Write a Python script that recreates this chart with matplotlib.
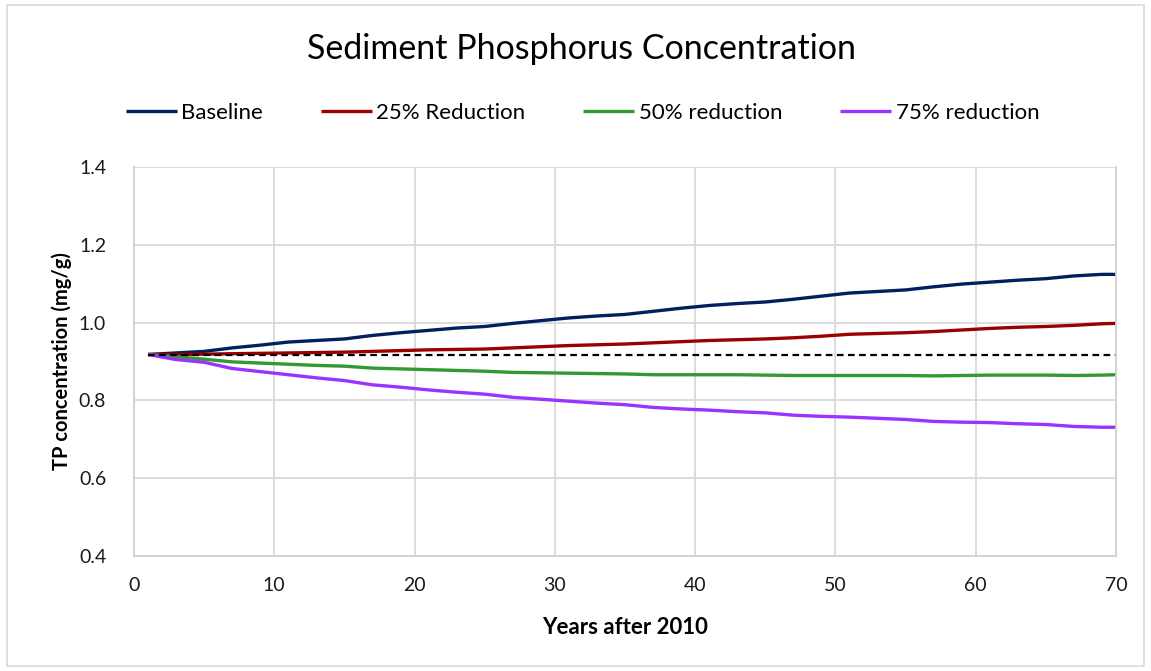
import matplotlib
matplotlib.use("Agg")
import matplotlib.pyplot as plt
from matplotlib.patches import Rectangle

years = [1, 3, 5, 7, 9, 11, 13, 15, 17, 19, 21, 23, 25, 27, 29, 31, 33, 35,
         37, 39, 41, 43, 45, 47, 49, 51, 53, 55, 57, 59, 61, 63, 65, 67, 69, 70]

baseline = [0.918, 0.922, 0.926, 0.935, 0.942, 0.950, 0.954, 0.958, 0.967, 0.974,
            0.980, 0.986, 0.990, 0.998, 1.005, 1.012, 1.017, 1.021, 1.029, 1.037,
            1.044, 1.049, 1.053, 1.060, 1.068, 1.076, 1.080, 1.084, 1.092, 1.099,
            1.104, 1.109, 1.113, 1.120, 1.124, 1.124]
red25 = [0.918, 0.918, 0.919, 0.920, 0.921, 0.922, 0.923, 0.924, 0.926, 0.928,
         0.930, 0.931, 0.932, 0.935, 0.938, 0.941, 0.943, 0.945, 0.948, 0.951,
         0.954, 0.956, 0.958, 0.961, 0.965, 0.970, 0.972, 0.974, 0.977, 0.981,
         0.985, 0.988, 0.990, 0.993, 0.997, 0.998]
red50 = [0.918, 0.912, 0.906, 0.899, 0.896, 0.893, 0.890, 0.888, 0.883, 0.881,
         0.879, 0.877, 0.875, 0.872, 0.871, 0.870, 0.869, 0.868, 0.866, 0.866,
         0.866, 0.866, 0.865, 0.864, 0.864, 0.864, 0.864, 0.864, 0.863, 0.864,
         0.865, 0.865, 0.865, 0.864, 0.865, 0.866]
red75 = [0.918, 0.905, 0.898, 0.882, 0.874, 0.866, 0.858, 0.851, 0.840, 0.834,
         0.827, 0.821, 0.816, 0.808, 0.803, 0.798, 0.793, 0.789, 0.782, 0.778,
         0.775, 0.771, 0.768, 0.762, 0.759, 0.757, 0.754, 0.751, 0.746, 0.744,
         0.743, 0.740, 0.738, 0.733, 0.731, 0.731]
initial = 0.917

series = [("Baseline", baseline, "#002060"),
          ("25% Reduction", red25, "#9B0000"),
          ("50% reduction", red50, "#339933"),
          ("75% reduction", red75, "#9933FF")]

plt.rcParams['font.family'] = ['Lato', 'DejaVu Sans']

fig = plt.figure(figsize=(11.51, 6.71), dpi=100)
ax = fig.add_axes([0.1164, 0.1714, 0.8532, 0.5797])

for name, vals, col in series:
    ax.plot(years, vals, color=col, lw=2.4, label=name, solid_capstyle='butt')
ax.axhline(initial, xmin=1/70, xmax=1, color="black", lw=1.6, ls=(0, (3, 2)))

ax.set_xlim(0, 70)
ax.set_ylim(0.4, 1.4)
ax.set_xticks(range(0, 71, 10))
ax.set_yticks([0.4, 0.6, 0.8, 1.0, 1.2, 1.4])
ax.set_yticklabels(["0.4", "0.6", "0.8", "1.0", "1.2", "1.4"])
ax.grid(True, color="#d9d9d9", lw=1.3)
ax.set_axisbelow(True)
ax.tick_params(length=0, labelsize=14, colors="#1a1a1a")
ax.tick_params(axis='y', pad=20)
ax.tick_params(axis='x', pad=15)
for s in ax.spines.values():
    s.set_color("#d0d0d0")
    s.set_linewidth(1.3)
ax.spines['top'].set_visible(False)

ax.set_xlabel("Years after 2010", fontsize=16, fontweight="bold", labelpad=17)
ax.set_ylabel("TP concentration (mg/g)", fontsize=14.5, fontweight="bold", labelpad=5)

fig.text(0.505, 0.927, "Sediment Phosphorus Concentration", ha="center", va="center",
         fontsize=24.5)
fig.legend(loc="center", bbox_to_anchor=(0.506, 0.832), ncol=4, frameon=False,
           fontsize=16, handlelength=2.3, handletextpad=0.2, columnspacing=2.6)

fig.patches.append(Rectangle((0.006, 0.008), 0.988, 0.985, transform=fig.transFigure,
                             fill=False, ec="#d9d9d9", lw=1.2))

fig.savefig("out.png", dpi=100)
